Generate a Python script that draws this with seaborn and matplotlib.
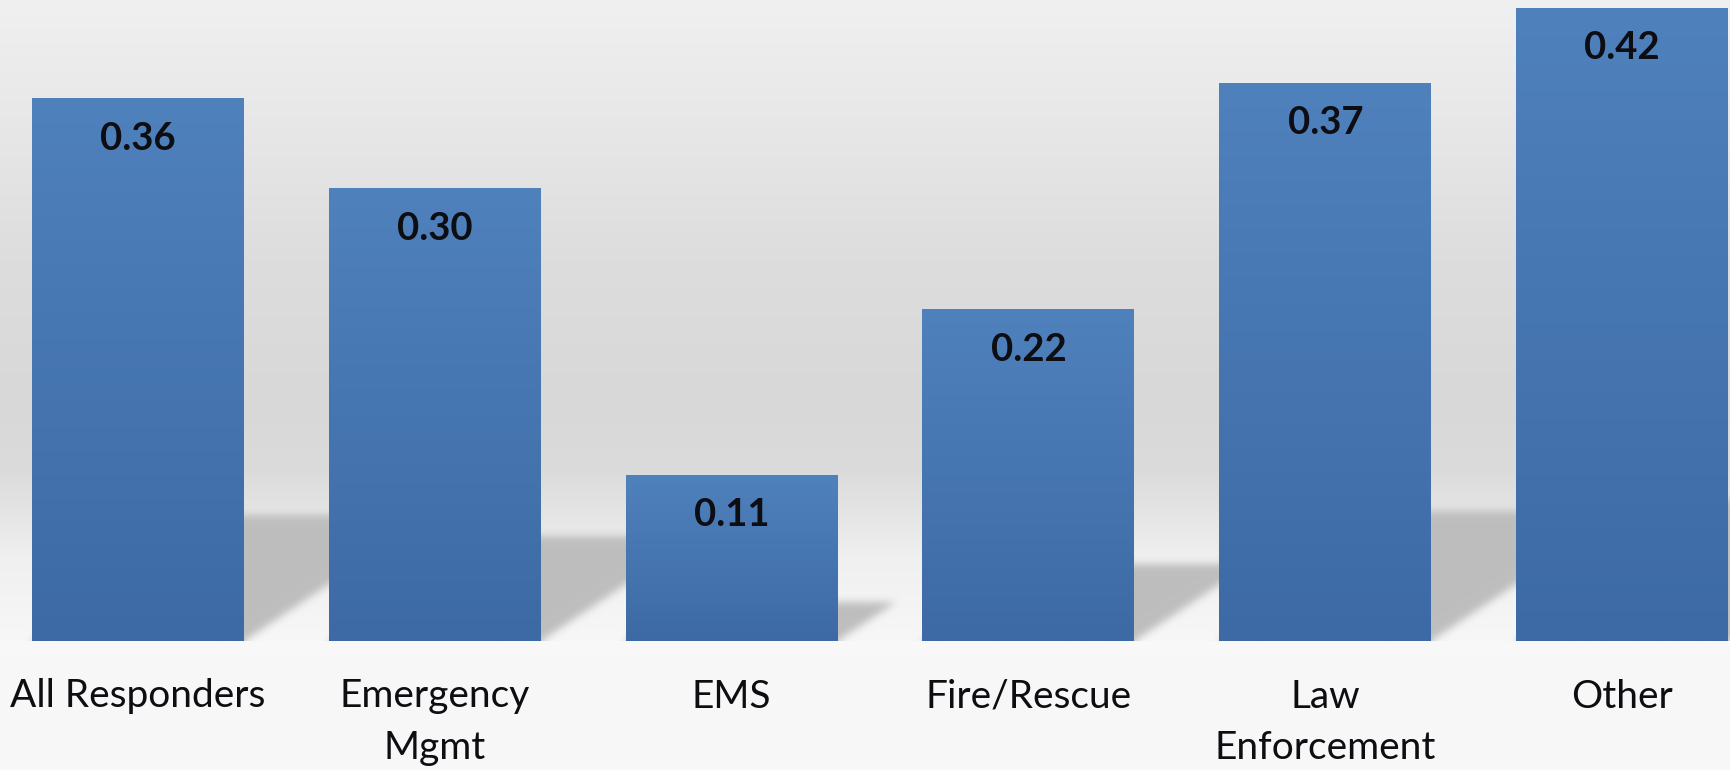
import numpy as np
import pandas as pd
import matplotlib
matplotlib.use("Agg")
import matplotlib.pyplot as plt
import seaborn as sns

# ---- data -------------------------------------------------------------
categories = ["All Responders", "Emergency\nMgmt", "EMS", "Fire/Rescue",
              "Law\nEnforcement", "Other"]
values = [0.36, 0.30, 0.11, 0.22, 0.37, 0.42]

# ---- figure / layout --------------------------------------------------
W, H = 1731, 770
AX_H = 641                      # plot area height in pixels (top of figure)
XLIM = (-0.465, 5.367)
YTOP = 0.4254
BAR_W = 0.714

sns.set_theme(style="white")
plt.rcParams["font.family"] = ["Lato", "DejaVu Sans"]

fig = plt.figure(figsize=(W / 100, H / 100), dpi=100)

# soft light band behind the category labels
bg_ax = fig.add_axes([0, 0, 1, 1], zorder=-1)
band = np.linspace(254, 247, 200)[:, None] / 255.0
bg_ax.imshow(np.repeat(band[:, :, None], 3, axis=2)[::-1], aspect="auto",
             extent=(0, 1, 0, 1), origin="lower")
bg_ax.set_axis_off()

ax = fig.add_axes([0, (H - AX_H) / H, 1, AX_H / H])
ax.set_facecolor("none")

# ---- plot-area background: vertical grey gradient + floor shadows -----
ny, nx = AX_H, W
rows = np.arange(ny) + 0.5
stops_px = [0, 130, 260, 400, 470, 515, 560, 641]
stops_val = [240, 231, 221, 216, 219, 229, 240, 247]
col = np.interp(rows, stops_px, stops_val)
bg = np.repeat(col[:, None], nx, axis=1)

xd = XLIM[0] + (np.arange(nx) + 0.5) / nx * (XLIM[1] - XLIM[0])
yd = YTOP * (1 - rows / ny)
XX, YY = np.meshgrid(xd, yd)

px_per_x = nx / (XLIM[1] - XLIM[0])
px_per_y = ny / YTOP
mask = np.zeros_like(bg)
for i, v in enumerate(values):
    s = 0.233 * v                                  # shadow depth (data y)
    d = 1.5 * s * px_per_y / px_per_x              # sideways lean (data x)
    t = np.clip(YY / s, 0, None)
    inside = (YY >= 0) & (YY <= s) & \
             (XX >= i - BAR_W / 2 + d * t) & (XX <= i + BAR_W / 2 + d * t)
    mask[inside] = 1.0


def blur(a, sigma):
    r = int(3 * sigma)
    k = np.exp(-0.5 * (np.arange(-r, r + 1) / sigma) ** 2)
    k /= k.sum()
    out = a
    for axis in (0, 1):
        padw = [(0, 0), (0, 0)]
        padw[axis] = (r, r)
        p = np.pad(out, padw, mode="edge")
        acc = np.zeros_like(out)
        n = out.shape[axis]
        for j, w in enumerate(k):
            sl = [slice(None), slice(None)]
            sl[axis] = slice(j, j + n)
            acc += w * p[tuple(sl)]
        out = acc
    return out


mask = blur(mask, 4.0)
shade = bg * (1 - mask) + 190 * mask
img = np.repeat((shade / 255.0)[:, :, None], 3, axis=2)
ax.imshow(img, extent=(XLIM[0], XLIM[1], 0, YTOP), aspect="auto",
          origin="upper", zorder=0, interpolation="bilinear")

# ---- bars -------------------------------------------------------------
df = pd.DataFrame({"category": categories, "value": values})
sns.barplot(data=df, x="category", y="value", color="#3d6aa4",
            saturation=1, width=BAR_W, ax=ax, zorder=2, linewidth=0)

top_rgb = np.array([79, 129, 189]) / 255.0
bot_rgb = np.array([61, 106, 164]) / 255.0
grad = np.linspace(0, 1, 256)[:, None]
grad_img = (top_rgb[None, :] * (1 - grad) + bot_rgb[None, :] * grad)[:, None, :]

for p in ax.patches:
    x0, w, h = p.get_x(), p.get_width(), p.get_height()
    ax.imshow(grad_img, extent=(x0, x0 + w, 0, h), aspect="auto",
              origin="upper", zorder=3, interpolation="bilinear")
    ax.annotate(f"{h:.2f}", xy=(x0 + w / 2, h), xytext=(0, -28.8),
                textcoords="offset points", ha="center", va="center",
                fontsize=27.5, fontweight="bold", color="#0d0d12", zorder=4)

# ---- axes cosmetics ---------------------------------------------------
ax.set_xlim(*XLIM)
ax.set_ylim(0, YTOP)
ax.set_xlabel("")
ax.set_ylabel("")
ax.set_yticks([])
ax.tick_params(axis="x", length=0, pad=27, labelsize=28, labelcolor="#0d0d12")
for lbl in ax.get_xticklabels():
    lbl.set_linespacing(1.55)
for sp in ax.spines.values():
    sp.set_visible(False)

fig.savefig("out.png", dpi=100)
